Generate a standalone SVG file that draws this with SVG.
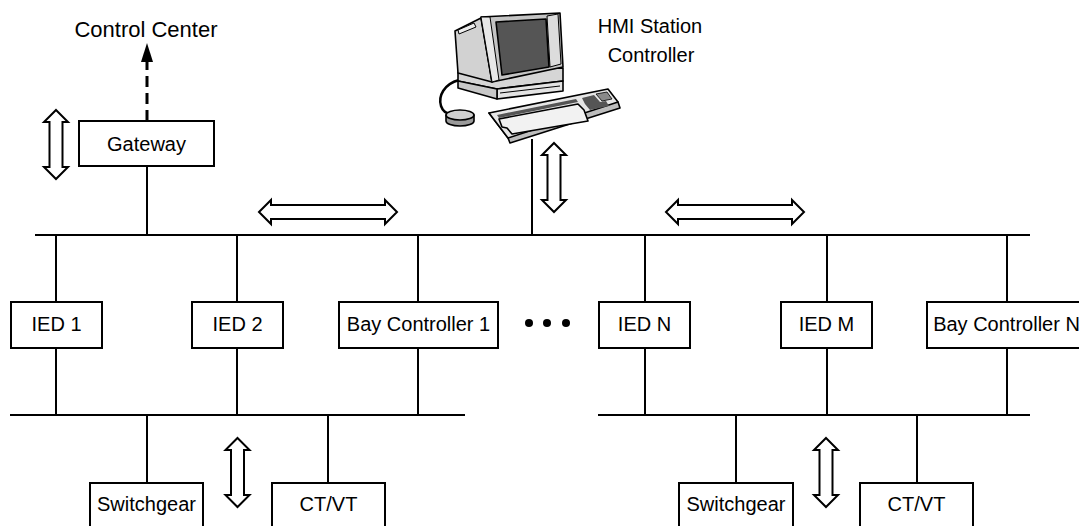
<svg xmlns="http://www.w3.org/2000/svg" width="1079" height="526" viewBox="0 0 1079 526">
  <style>
    .box { fill: #ffffff; stroke: #000000; stroke-width: 2; }
    .wire { fill: none; stroke: #000000; stroke-width: 2; }
    .flow { fill: #ffffff; stroke: #000000; stroke-width: 2; stroke-linejoin: miter; }
    .lbl { font-family: "Liberation Sans", Arial, sans-serif; font-size: 20px; fill: #000000; text-anchor: middle; }
    .pc { stroke: #000000; stroke-width: 1.6; stroke-linejoin: round; }
  </style>
  <defs>
    <!-- vertical two-way data arrow, tip at origin -->
    <path id="varrow" d="M0,0 L12,12 L6.5,12 L6.5,57 L12,57 L0,69 L-12,57 L-6.5,57 L-6.5,12 L-12,12 Z"/>
    <!-- horizontal two-way data arrow, left tip at origin -->
    <path id="harrow" d="M0,0 L12,-12 L12,-7 L126,-7 L126,-12 L138,0 L126,12 L126,7 L12,7 L12,12 Z"/>
  </defs>

  <rect width="1079" height="526" fill="#ffffff"/>

  <!-- connectors: buses and drops -->
  <g id="connectors">
    <!-- station bus -->
    <line class="wire" x1="35" y1="235" x2="1030" y2="235"/>
    <!-- process buses -->
    <line class="wire" x1="10" y1="415" x2="465" y2="415"/>
    <line class="wire" x1="598" y1="415" x2="1030" y2="415"/>

    <!-- gateway and HMI drops -->
    <line class="wire" x1="147" y1="166" x2="147" y2="235"/>
    <line class="wire" x1="532" y1="139" x2="532" y2="235"/>

    <!-- bay level drops (station bus to device, device to process bus) -->
    <line class="wire" x1="56" y1="235" x2="56" y2="302"/>
    <line class="wire" x1="56" y1="348" x2="56" y2="415"/>
    <line class="wire" x1="237" y1="235" x2="237" y2="302"/>
    <line class="wire" x1="237" y1="348" x2="237" y2="415"/>
    <line class="wire" x1="418" y1="235" x2="418" y2="302"/>
    <line class="wire" x1="418" y1="348" x2="418" y2="415"/>
    <line class="wire" x1="645" y1="235" x2="645" y2="302"/>
    <line class="wire" x1="645" y1="348" x2="645" y2="415"/>
    <line class="wire" x1="827" y1="235" x2="827" y2="302"/>
    <line class="wire" x1="827" y1="348" x2="827" y2="415"/>
    <line class="wire" x1="1007" y1="235" x2="1007" y2="302"/>
    <line class="wire" x1="1007" y1="348" x2="1007" y2="415"/>

    <!-- process level drops -->
    <line class="wire" x1="147" y1="415" x2="147" y2="483"/>
    <line class="wire" x1="328" y1="415" x2="328" y2="483"/>
    <line class="wire" x1="736" y1="415" x2="736" y2="483"/>
    <line class="wire" x1="917" y1="415" x2="917" y2="483"/>

    <!-- remote link to control center -->
    <line x1="147" y1="121" x2="147" y2="61" stroke="#000000" stroke-width="3" stroke-dasharray="11 6"/>
    <polygon points="147,43 141,62 153,62" fill="#000000"/>

    <!-- data flow arrows -->
    <use href="#varrow" class="flow" x="56" y="110"/>
    <use href="#varrow" class="flow" x="554" y="143"/>
    <use href="#varrow" class="flow" x="237.5" y="438"/>
    <use href="#varrow" class="flow" x="826" y="438"/>
    <use href="#harrow" class="flow" x="259" y="212"/>
    <use href="#harrow" class="flow" x="666" y="212"/>
  </g>

  <!-- control center label -->
  <g id="control-center">
    <text class="lbl" x="146" y="37" style="font-size:22px">Control Center</text>
  </g>

  <g id="gateway">
    <rect class="box" x="79" y="121" width="135" height="45"/>
    <text class="lbl" x="146.5" y="151">Gateway</text>
  </g>

  <!-- HMI workstation -->
  <g id="hmi">
    <!-- mouse cable -->
    <path d="M459,80 C444,84 438,96 441,106 C443,112 447,114 452,114" fill="none" stroke="#000000" stroke-width="2.5"/>
    <!-- mouse -->
    <path class="pc" d="M446,115 L446,121 A14,5 0 0 0 474,121 L474,115 Z" fill="#9a9a9a"/>
    <ellipse class="pc" cx="460" cy="115" rx="14" ry="5" fill="#d0d0d0"/>

    <!-- monitor base -->
    <path class="pc" d="M458,72 L563,68 L563,81 L497,89 L458,81 Z" fill="#d6d6d6"/>
    <path class="pc" d="M497,89 L563,81 L563,91 L497,99 Z" fill="#e4e4e4"/>
    <path class="pc" d="M458,81 L497,89 L497,99 L458,88 Z" fill="#c8c8c8"/>
    <line x1="500" y1="93" x2="560" y2="86" stroke="#000000" stroke-width="1"/>

    <!-- tube housing -->
    <path class="pc" d="M455,31 L481,18 L492,82 L458,73 Z" fill="#d2d2d2"/>
    <path d="M458,30 L474,23 L476,27 L459,34 Z" fill="#eeeeee" stroke="#000000" stroke-width="1"/>

    <!-- front bezel -->
    <path class="pc" d="M481,17 L560,13 L563,67 L492,82 Z" fill="#c4c4c4" stroke-width="2.2"/>
    <path d="M481,17 L490,17 L499,80 L492,82 Z" fill="#e8e8e8" stroke="#000000" stroke-width="1"/>
    <path d="M547,16 L558,14 L561,64 L550,67 Z" fill="#dcdcdc" stroke="#000000" stroke-width="1"/>
    <!-- screen -->
    <path class="pc" d="M496,22 L546,19 L549,67 L502,75 Z" fill="#555555" stroke-width="2.4"/>

    <!-- keyboard -->
    <path class="pc" d="M489,113 L508,138 L510,143 L620,108 L618,102 Z" fill="#bdbdbd" stroke-width="2"/>
    <path class="pc" d="M489,113 L608,89 L618,102 L508,138 Z" fill="#e6e6e6" stroke-width="2"/>
    <!-- key rows -->
    <path d="M497,115 L576,99 L578,102 L499,118 Z" fill="#555555"/>
    <path d="M582,98 L594,95 L600,102 L606,101 L609,106 L590,110 L585,104 Z" fill="#555555"/>
    <path d="M596,94 L607,92 L612,99 L602,101 Z" fill="#8a8a8a" stroke="#000000" stroke-width="0.8"/>
    <path class="pc" d="M499,119 L578,104 L584,110 L588,121 L512,134 L507,128 L502,127 Z" fill="#f2f2f2" stroke-width="1.3"/>
  </g>

  <text class="lbl" x="650" y="33">HMI Station</text>
  <text class="lbl" x="651" y="62">Controller</text>

  <!-- bay level devices -->
  <g id="ied-1">
    <rect class="box" x="11" y="302" width="91" height="46"/>
    <text class="lbl" x="56.5" y="331">IED 1</text>
  </g>
  <g id="ied-2">
    <rect class="box" x="192" y="302" width="91" height="46"/>
    <text class="lbl" x="237.5" y="331">IED 2</text>
  </g>
  <g id="bay-controller-1">
    <rect class="box" x="339" y="302" width="159" height="46"/>
    <text class="lbl" x="418.5" y="331">Bay Controller 1</text>
  </g>
  <g id="ellipsis">
    <circle cx="529" cy="323" r="4"/>
    <circle cx="547" cy="323" r="4"/>
    <circle cx="566" cy="323" r="4"/>
  </g>
  <g id="ied-n">
    <rect class="box" x="599" y="302" width="91" height="46"/>
    <text class="lbl" x="644.5" y="331">IED N</text>
  </g>
  <g id="ied-m">
    <rect class="box" x="781" y="302" width="91" height="46"/>
    <text class="lbl" x="826.5" y="331">IED M</text>
  </g>
  <g id="bay-controller-n">
    <rect class="box" x="927" y="302" width="159" height="46"/>
    <text class="lbl" x="1006.5" y="331">Bay Controller N</text>
  </g>

  <!-- process level equipment -->
  <g id="switchgear-1">
    <rect class="box" x="90" y="483" width="113" height="50"/>
    <text class="lbl" x="146.5" y="511">Switchgear</text>
  </g>
  <g id="ctvt-1">
    <rect class="box" x="272" y="483" width="113" height="50"/>
    <text class="lbl" x="328.5" y="511">CT/VT</text>
  </g>
  <g id="switchgear-2">
    <rect class="box" x="679" y="483" width="114" height="50"/>
    <text class="lbl" x="736" y="511">Switchgear</text>
  </g>
  <g id="ctvt-2">
    <rect class="box" x="860" y="483" width="113" height="50"/>
    <text class="lbl" x="916.5" y="511">CT/VT</text>
  </g>
</svg>
